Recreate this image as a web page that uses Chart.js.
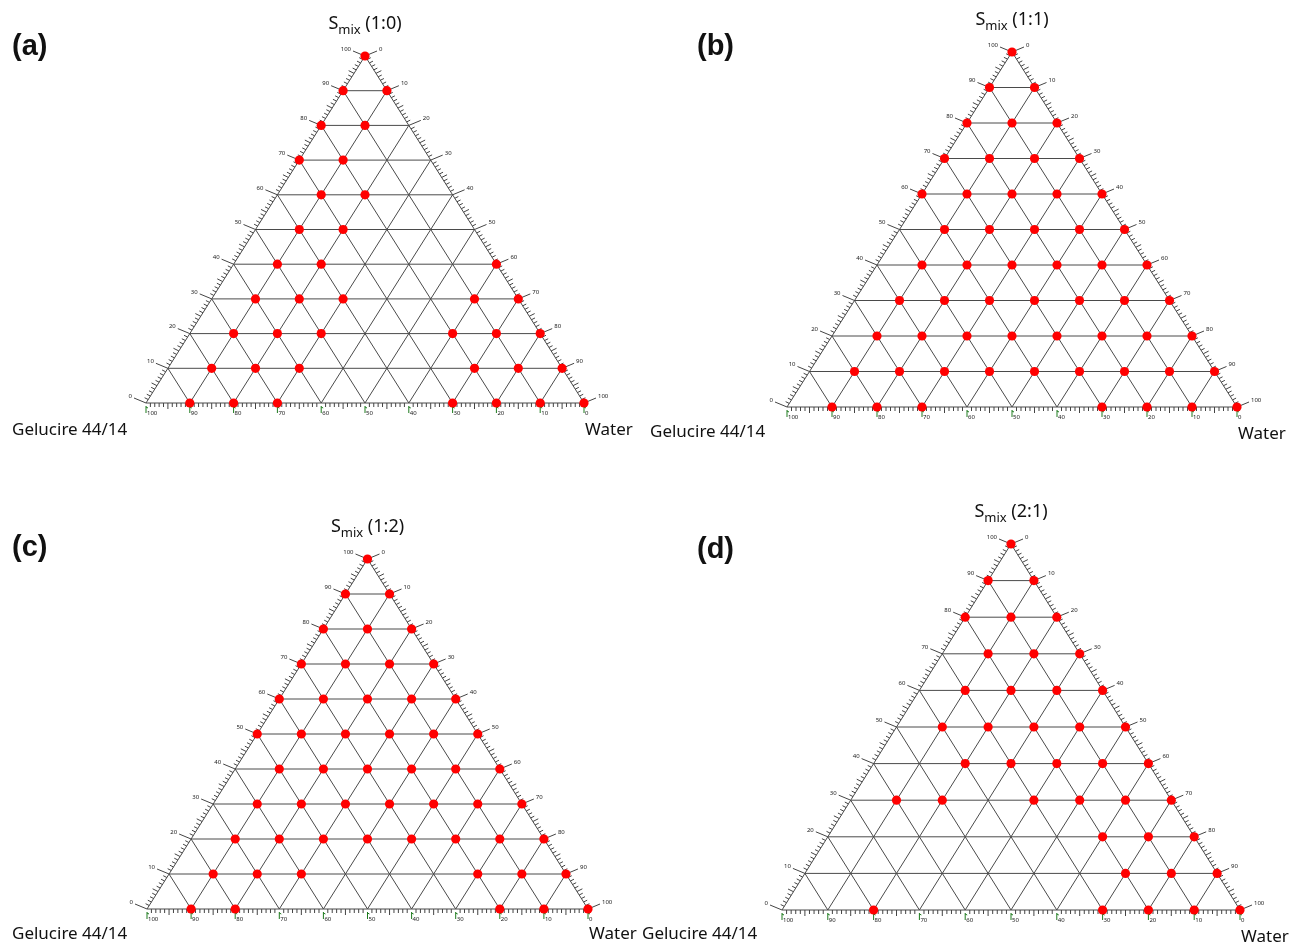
<!DOCTYPE html>
<html>
<head>
<meta charset="utf-8">
<script src="https://cdn.jsdelivr.net/npm/chart.js@4.4.1/dist/chart.umd.min.js"></script>
<style>
  html, body { margin: 0; padding: 0; background: #fff; }
  body { width: 1290px; height: 944px; position: relative; overflow: hidden; }
  canvas { position: absolute; }
</style>
</head>
<body>
<canvas id="chartA" width="640" height="470" style="left:0;top:0"></canvas>
<canvas id="chartB" width="650" height="470" style="left:640px;top:0"></canvas>
<canvas id="chartC" width="640" height="474" style="left:0;top:470px"></canvas>
<canvas id="chartD" width="650" height="474" style="left:640px;top:470px"></canvas>
<script>
// Compositions (%) of the tested points, row by row from the Smix apex down.
// Gelucire 44/14 = 100 - Smix - Water

// (a) Smix 1:0
const smixA  = [100, 90, 90, 80, 80, 70, 70, 60, 60, 50, 50, 40, 40, 40,
                30, 30, 30, 30, 30, 20, 20, 20, 20, 20, 20,
                10, 10, 10, 10, 10, 10, 0, 0, 0, 0, 0, 0, 0];
const waterA = [0, 0, 10, 0, 10, 0, 10, 10, 20, 10, 20, 10, 20, 60,
                10, 20, 30, 60, 70, 10, 20, 30, 60, 70, 80,
                10, 20, 30, 70, 80, 90, 10, 20, 30, 70, 80, 90, 100];

// (b) Smix 1:1
const smixB  = [100, 90, 90, 80, 80, 80, 70, 70, 70, 70, 60, 60, 60, 60, 60,
                50, 50, 50, 50, 50, 40, 40, 40, 40, 40, 40,
                30, 30, 30, 30, 30, 30, 30, 20, 20, 20, 20, 20, 20, 20, 20,
                10, 10, 10, 10, 10, 10, 10, 10, 10, 0, 0, 0, 0, 0, 0, 0];
const waterB = [0, 0, 10, 0, 10, 20, 0, 10, 20, 30, 0, 10, 20, 30, 40,
                10, 20, 30, 40, 50, 10, 20, 30, 40, 50, 60,
                10, 20, 30, 40, 50, 60, 70, 10, 20, 30, 40, 50, 60, 70, 80,
                10, 20, 30, 40, 50, 60, 70, 80, 90, 10, 20, 30, 70, 80, 90, 100];

// (c) Smix 1:2
const smixC  = [100, 90, 90, 80, 80, 80, 70, 70, 70, 70, 60, 60, 60, 60, 60,
                50, 50, 50, 50, 50, 50, 40, 40, 40, 40, 40, 40,
                30, 30, 30, 30, 30, 30, 30, 20, 20, 20, 20, 20, 20, 20, 20,
                10, 10, 10, 10, 10, 10, 0, 0, 0, 0, 0];
const waterC = [0, 0, 10, 0, 10, 20, 0, 10, 20, 30, 0, 10, 20, 30, 40,
                0, 10, 20, 30, 40, 50, 10, 20, 30, 40, 50, 60,
                10, 20, 30, 40, 50, 60, 70, 10, 20, 30, 40, 50, 60, 70, 80,
                10, 20, 30, 70, 80, 90, 10, 20, 80, 90, 100];

// (d) Smix 2:1
const smixD  = [100, 90, 90, 80, 80, 80, 70, 70, 70, 60, 60, 60, 60,
                50, 50, 50, 50, 50, 40, 40, 40, 40, 40,
                30, 30, 30, 30, 30, 30, 20, 20, 20, 10, 10, 10, 0, 0, 0, 0, 0];
const waterD = [0, 0, 10, 0, 10, 20, 10, 20, 30, 10, 20, 30, 40,
                10, 20, 30, 40, 50, 20, 30, 40, 50, 60,
                10, 20, 40, 50, 60, 70, 60, 70, 80, 70, 80, 90, 20, 70, 80, 90, 100];

// axis graduations (every 10 %)
const axisTicks = [0, 10, 20, 30, 40, 50, 60, 70, 80, 90, 100];

const GRID = '#4a4a4a';
const TEXT = '#222';
const LABEL_FONT = '"Noto Sans", "Open Sans", sans-serif';

function toXY(chart, smix, water) {
  return [chart.scales.x.getPixelForValue(water + smix / 2),
          chart.scales.y.getPixelForValue(smix)];
}

function line(ctx, a, b) {
  ctx.moveTo(a[0], a[1]);
  ctx.lineTo(b[0], b[1]);
}

const ternaryPlugin = {
  id: 'ternary',
  beforeDatasetsDraw(chart, args, opts) {
    const ctx = chart.ctx;
    ctx.save();

    // grid + border
    ctx.strokeStyle = GRID;
    ctx.lineWidth = 1;
    ctx.beginPath();
    axisTicks.forEach(v => {
      if (v === 0 || v === 100) return;
      line(ctx, toXY(chart, v, 0), toXY(chart, v, 100 - v));
      line(ctx, toXY(chart, 0, v), toXY(chart, 100 - v, v));
      line(ctx, toXY(chart, 0, 100 - v), toXY(chart, 100 - v, 0));
    });
    line(ctx, toXY(chart, 0, 0), toXY(chart, 0, 100));
    line(ctx, toXY(chart, 0, 100), toXY(chart, 100, 0));
    line(ctx, toXY(chart, 100, 0), toXY(chart, 0, 0));
    ctx.stroke();

    // minor ticks every 1 %
    ctx.strokeStyle = '#444';
    ctx.beginPath();
    for (let t = 0; t <= 100; t++) {
      if (t % 10 === 0) continue;
      const len = t % 5 === 0 ? 6 : 4;
      // left edge (Smix)
      let p = toXY(chart, t, 0);
      line(ctx, p, [p[0] - len * 0.9, p[1] - len * 0.45]);
      // right edge (Water)
      p = toXY(chart, t, 100 - t);
      line(ctx, p, [p[0] + len * 0.9, p[1] - len * 0.45]);
      // bottom edge (Gelucire)
      p = toXY(chart, 0, t);
      line(ctx, p, [p[0], p[1] + len]);
    }
    ctx.stroke();

    // major leaders + labels
    ctx.font = '6px ' + LABEL_FONT;
    ctx.textBaseline = 'middle';
    axisTicks.forEach(v => {
      ctx.strokeStyle = '#444';
      ctx.beginPath();
      let p = toXY(chart, v, 0);
      line(ctx, p, [p[0] - 12, p[1] - 5]);
      let q = toXY(chart, v, 100 - v);
      line(ctx, q, [q[0] + 12, q[1] - 5]);
      ctx.stroke();
      ctx.fillStyle = TEXT;
      ctx.textAlign = 'right';
      ctx.fillText(String(v), p[0] - 14, p[1] - 7);
      ctx.textAlign = 'left';
      ctx.fillText(String(100 - v), q[0] + 14, q[1] - 7);

      // bottom: green marker + label
      const b = toXY(chart, 0, v);
      ctx.strokeStyle = '#1d7a1d';
      ctx.beginPath();
      line(ctx, [b[0], b[1] + 3], [b[0], b[1] + 10]);
      line(ctx, [b[0], b[1] + 4], [b[0] + 2, b[1] + 5]);
      ctx.stroke();
      ctx.fillStyle = TEXT;
      ctx.textAlign = 'left';
      ctx.fillText(String(100 - v), b[0] + 1, b[1] + 10);
    });
    ctx.restore();
  },
  afterDraw(chart, args, opts) {
    const ctx = chart.ctx;
    const area = chart.chartArea;
    ctx.save();
    ctx.fillStyle = '#111';
    ctx.textBaseline = 'middle';

    // panel letter
    ctx.font = 'bold 29px "Liberation Sans", Arial, sans-serif';
    ctx.textAlign = 'left';
    ctx.fillText(opts.letter, opts.letterX, opts.letterY);

    // S_mix (ratio) above apex
    const cx = (area.left + area.right) / 2;
    const ty = area.top - 32;
    const big = '18px ' + LABEL_FONT, small = '13px ' + LABEL_FONT;
    ctx.font = big;
    const wS = ctx.measureText('S').width;
    const wR = ctx.measureText(' ' + opts.ratio).width;
    ctx.font = small;
    const wM = ctx.measureText('mix').width;
    let x = cx - (wS + wM + wR) / 2;
    ctx.font = big;
    ctx.fillText('S', x, ty);
    ctx.font = small;
    ctx.fillText('mix', x + wS, ty + 6);
    ctx.font = big;
    ctx.fillText(' ' + opts.ratio, x + wS + wM, ty);

    // vertex names
    ctx.font = '17px ' + LABEL_FONT;
    ctx.fillText('Gelucire 44/14', opts.gelX, area.bottom + opts.nameDy);
    ctx.fillText('Water', area.right + 1, area.bottom + opts.nameDy + opts.waterDy);
    ctx.restore();
  }
};

function makeTernary(id, smix, water, pad, texts) {
  new Chart(document.getElementById(id), {
    type: 'scatter',
    data: {
      datasets: [{
        data: smix.map((s, k) => ({ x: water[k] + s / 2, y: s })),
        backgroundColor: '#ff0000',
        borderWidth: 0,
        pointRadius: 4.6,
        pointHoverRadius: 4.6,
        clip: false
      }]
    },
    options: {
      responsive: false,
      animation: false,
      layout: { padding: pad },
      scales: {
        x: { type: 'linear', min: 0, max: 100, display: false },
        y: { type: 'linear', min: 0, max: 100, display: false }
      },
      plugins: {
        legend: { display: false },
        tooltip: { enabled: false },
        ternary: texts
      }
    },
    plugins: [ternaryPlugin]
  });
}

makeTernary('chartA', smixA, waterA,
  { left: 146, right: 56, top: 56, bottom: 67 },
  { letter: '(a)', letterX: 12, letterY: 47, ratio: '(1:0)', gelX: 12, nameDy: 27, waterDy: 0 });
makeTernary('chartB', smixB, waterB,
  { left: 147, right: 53, top: 52, bottom: 63 },
  { letter: '(b)', letterX: 57, letterY: 47, ratio: '(1:1)', gelX: 10, nameDy: 25, waterDy: 2 });
makeTernary('chartC', smixC, waterC,
  { left: 147, right: 52, top: 89, bottom: 35 },
  { letter: '(c)', letterX: 12, letterY: 78, ratio: '(1:2)', gelX: 12, nameDy: 25, waterDy: 0 });
makeTernary('chartD', smixD, waterD,
  { left: 142, right: 50, top: 74, bottom: 34 },
  { letter: '(d)', letterX: 57, letterY: 80, ratio: '(2:1)', gelX: 2, nameDy: 24, waterDy: 3 });
</script>
</body>
</html>
